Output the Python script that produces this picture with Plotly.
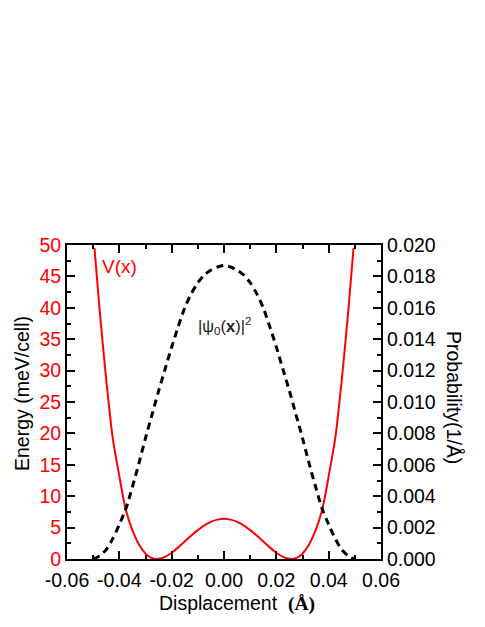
"""Double-well potential and ground-state probability density."""
import plotly.graph_objects as go

# displacement (Angstrom) for the potential curve
x_pot = [-0.0495, -0.0475, -0.045, -0.0425, -0.04, -0.0375, -0.035, -0.0325,
         -0.03, -0.0275, -0.025, -0.0225, -0.02, -0.0175, -0.015, -0.0125,
         -0.01, -0.0075, -0.005, -0.0025, 0.0, 0.0025, 0.005, 0.0075, 0.01,
         0.0125, 0.015, 0.0175, 0.02, 0.0225, 0.025, 0.0275, 0.03, 0.0325,
         0.035, 0.0375, 0.04, 0.0425, 0.045, 0.0475, 0.0495]
# V(x) in meV/cell
v_pot = [49.5, 39.5, 28.5, 19.2, 13.2, 7.8, 4.6, 2.3, 0.85, 0.14, 0.02, 0.35,
         1.0, 1.85, 2.8, 3.75, 4.6, 5.36, 5.92, 6.27, 6.4, 6.27, 5.92, 5.36,
         4.6, 3.75, 2.8, 1.85, 1.0, 0.35, 0.02, 0.14, 0.85, 2.3, 4.6, 7.8, 13.2,
         19.2, 28.5, 39.5, 49.5]

# displacement for the probability density
x_prob = [-0.05, -0.0475, -0.045, -0.0425, -0.04, -0.0375, -0.035, -0.0325,
          -0.03, -0.0275, -0.025, -0.0225, -0.02, -0.0175, -0.015, -0.0125,
          -0.01, -0.0075, -0.005, -0.0025, 0.0, 0.0025, 0.005, 0.0075, 0.01,
          0.0125, 0.015, 0.0175, 0.02, 0.0225, 0.025, 0.0275, 0.03, 0.0325,
          0.035, 0.0375, 0.04, 0.0425, 0.045, 0.0475, 0.05]
# |psi_0(x)|^2 in 1/Angstrom
p_prob = [0.0, 0.0002, 0.0006, 0.0013, 0.0022, 0.0032, 0.0046, 0.0061,
          0.0077, 0.0092, 0.0107, 0.0121, 0.0135, 0.0148, 0.0160, 0.0169,
          0.0176, 0.0181, 0.0184, 0.0186, 0.0187, 0.0186, 0.0184, 0.0181,
          0.0176, 0.0169, 0.0160, 0.0148, 0.0135, 0.0121, 0.0107, 0.0092,
          0.0077, 0.0061, 0.0046, 0.0032, 0.0022, 0.0013, 0.0006, 0.0002, 0.0]

x_tickvals = [-0.06, -0.04, -0.02, 0.0, 0.02, 0.04, 0.06]
x_ticktext = ["-0.06", "-0.04", "-0.02", "0.00", "0.02", "0.04", "0.06"]

FONT = "Arial, Liberation Sans, sans-serif"
RED = "#ff0000"
FS = 19.5

fig = go.Figure()
fig.add_trace(go.Scatter(
    x=x_prob, y=p_prob, mode="lines", yaxis="y2",
    line=dict(color="black", width=3, dash="7px,5px", shape="spline", smoothing=0.8),
    showlegend=False,
))
fig.add_trace(go.Scatter(
    x=x_pot, y=v_pot, mode="lines",
    line=dict(color=RED, width=2, shape="spline", smoothing=0.8),
    showlegend=False,
))

# page body adds an 8px offset, so the figure is 8px smaller than the window
fig.update_layout(
    width=477, height=619,
    margin=dict(l=59, r=104, t=237, b=68),
    paper_bgcolor="white", plot_bgcolor="white",
    font=dict(family=FONT, size=FS, color="black"),
    xaxis=dict(
        range=[-0.06, 0.06], tickvals=x_tickvals, ticktext=x_ticktext,
        ticks="inside", ticklen=8, tickwidth=1.5, tickcolor="black",
        minor=dict(dtick=0.01, ticks="inside", ticklen=4, tickcolor="black"),
        showline=True, linecolor="black", linewidth=2, mirror="ticks",
        showgrid=False, zeroline=False, ticklabelstandoff=3,
        tickfont=dict(size=FS, color="black"),
    ),
    yaxis=dict(
        range=[0, 50], dtick=5,
        ticks="inside", ticklen=8, tickwidth=1.5, tickcolor="black",
        minor=dict(dtick=2.5, ticks="inside", ticklen=4, tickcolor="black"),
        showline=True, linecolor="black", linewidth=2, mirror=True,
        showgrid=False, zeroline=False,
        tickfont=dict(size=FS, color=RED),
    ),
    yaxis2=dict(
        range=[0, 0.02], dtick=0.002, tickformat=".3f",
        overlaying="y", side="right",
        ticks="inside", ticklen=8, tickwidth=1.5, tickcolor="black",
        minor=dict(dtick=0.001, ticks="inside", ticklen=4, tickcolor="black"),
        showline=True, linecolor="black", linewidth=2,
        showgrid=False, zeroline=False,
        tickfont=dict(size=FS, color="black"),
    ),
)

fig.add_annotation(
    x=-0.0399, y=46.6, text="V(x)", showarrow=False,
    font=dict(size=19, color=RED),
)
fig.add_annotation(
    x=0.0, y=37.1, text="|ψ<sub>0</sub>(<b>x</b>)|<sup>2</sup>", showarrow=False,
    font=dict(size=16.5, color="#222222"),
)
# axis titles placed by hand to follow the reference
fig.add_annotation(
    xref="paper", yref="paper", x=0.5, y=0.0, xshift=13, yshift=-44,
    xanchor="center", yanchor="middle",
    text="Displacement&nbsp;&nbsp;<span style=\"font-family:Liberation Serif\"><b>(Å)</b></span>",
    showarrow=False, font=dict(size=FS, color="black"),
)
fig.add_annotation(
    xref="paper", yref="paper", x=0.0, y=0.5, xshift=-45, yshift=8,
    xanchor="center", yanchor="middle",
    text="Energy (meV/cell)", textangle=-90, showarrow=False,
    font=dict(size=FS, color="black"),
)
fig.add_annotation(
    xref="paper", yref="paper", x=1.0, y=0.5, xshift=73, yshift=5,
    xanchor="center", yanchor="middle",
    text="Probability(1/Å)", textangle=90, showarrow=False,
    font=dict(size=FS, color="black"),
)

fig.write_html("out.html")
